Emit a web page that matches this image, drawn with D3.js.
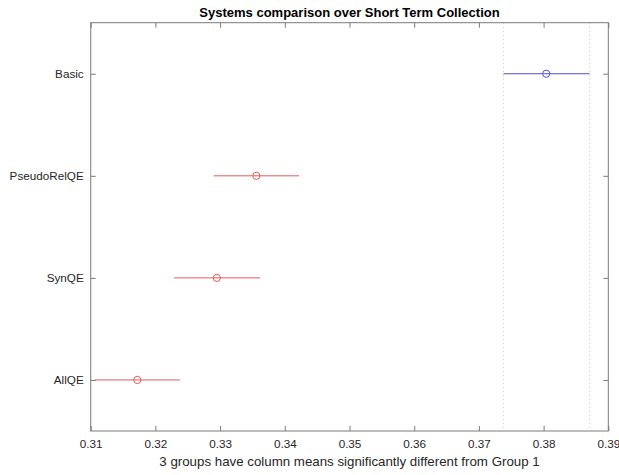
<!DOCTYPE html>
<html><head><meta charset="utf-8">
<script src="https://cdn.jsdelivr.net/npm/d3@7"></script>
<style>body{margin:0;background:#fff}svg{display:block}text{font-family:"Liberation Sans",Arial,Helvetica,sans-serif}</style>
</head><body>
<svg id="c" width="619" height="475"></svg>
<script>
const groups = ["Basic","PseudoRelQE","SynQE","AllQE"];
const lower = [0.3738, 0.3290, 0.3229, 0.3106];
const means = [0.3804, 0.3356, 0.3295, 0.3172];
const upper = [0.3871, 0.3422, 0.3362, 0.3238];
const xTicks = [0.31,0.32,0.33,0.34,0.35,0.36,0.37,0.38,0.39];
const title = "Systems comparison over Short Term Collection";
const xLabel = "3 groups have column means significantly different from Group 1";

const svg = d3.select("#c");
const L = 90.7, R = 608.3, T = 22.7, B = 431;
const x = d3.scaleLinear().domain([0.31,0.39]).range([L,R]);
const y = d3.scaleLinear().domain([0.5,4.5]).range([T,B]);
const axisCol = "#7a7a7a", txtCol = "#262626";

// dotted reference lines for group 1 interval
svg.selectAll("line.ref").data([lower[0], upper[0]]).enter().append("line")
  .attr("x1",d=>x(d)).attr("x2",d=>x(d)).attr("y1",T).attr("y2",B)
  .attr("stroke","#d0d0d0").attr("stroke-width",0.8).attr("stroke-dasharray","1.5,2.5");

// box
svg.append("rect").attr("x",L).attr("y",T).attr("width",R-L).attr("height",B-T)
  .attr("fill","none").attr("stroke",axisCol).attr("stroke-width",1);

// axes ticks
const gx = svg.append("g").attr("transform",`translate(0,${B})`)
  .call(d3.axisBottom(x).tickValues(xTicks).tickSize(-5).tickPadding(8.5).tickFormat(d3.format(".2f")));
const gxt = svg.append("g").attr("transform",`translate(0,${T})`)
  .call(d3.axisTop(x).tickValues(xTicks).tickSize(-5).tickFormat(""));
const gy = svg.append("g").attr("transform",`translate(${L},0)`)
  .call(d3.axisLeft(y).tickValues([1,2,3,4]).tickSize(-5).tickPadding(7).tickFormat((d,i)=>groups[i]));
const gyr = svg.append("g").attr("transform",`translate(${R},0)`)
  .call(d3.axisRight(y).tickValues([1,2,3,4]).tickSize(-5).tickFormat(""));
[gx,gxt,gy,gyr].forEach(g=>{
  g.select(".domain").remove();
  g.selectAll(".tick line").attr("stroke",axisCol);
  g.selectAll("text").attr("fill",txtCol).attr("font-size","11.7px");
});

// intervals
const data = groups.map((g,i)=>({g, i, lo:lower[i], m:means[i], hi:upper[i]}));
const col = d=> d.i===0 ? "#5050c8" : "#e05a5a";
svg.selectAll("line.ci").data(data).enter().append("line")
  .attr("x1",d=>x(d.lo)).attr("x2",d=>x(d.hi)).attr("y1",d=>y(d.i+1)).attr("y2",d=>y(d.i+1))
  .attr("stroke",col).attr("stroke-width",1);
svg.selectAll("circle.m").data(data).enter().append("circle")
  .attr("cx",d=>x(d.m)).attr("cy",d=>y(d.i+1)).attr("r",3.6)
  .attr("fill","none").attr("stroke",col).attr("stroke-width",1);

svg.append("text").attr("x",(L+R)/2).attr("y",17).attr("text-anchor","middle")
  .attr("font-weight","bold").attr("font-size","13px").attr("fill","#000").text(title);
svg.append("text").attr("x",(L+R)/2).attr("y",466).attr("text-anchor","middle")
  .attr("font-size","13.3px").attr("fill",txtCol).text(xLabel);
</script>
</body></html>
